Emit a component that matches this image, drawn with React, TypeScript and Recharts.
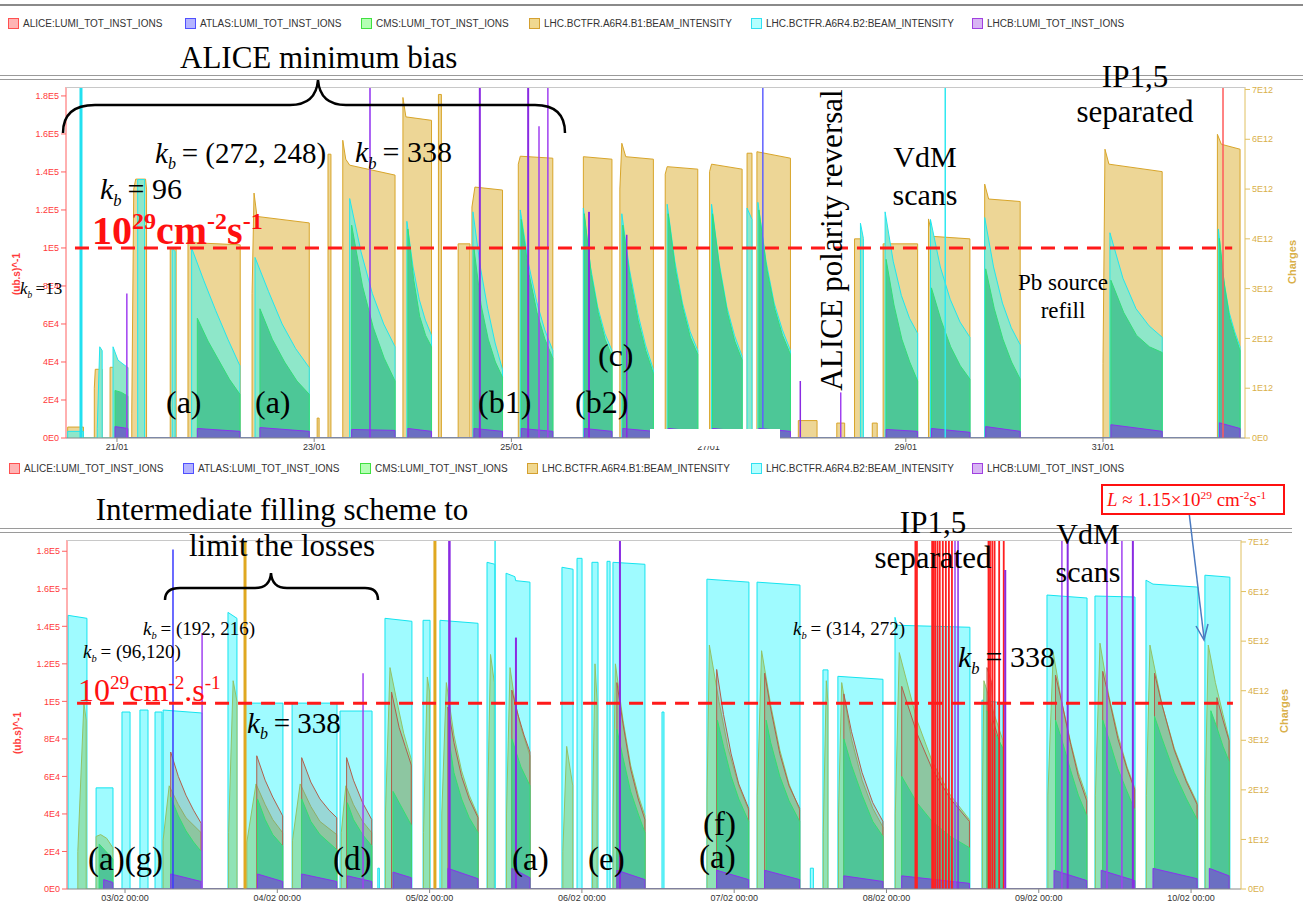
import React from 'react';
import { ComposedChart, Area, XAxis, YAxis, ReferenceLine } from 'recharts';

type Pt = [number, number];
type Run = [number, number, number[]];
type Spike = [number, number | null, string, number];

// ---- top panel: 20/01 - 01/02 (x = day of January) ----
// lumi in 1E4 (ub.s)^-1, beam intensity in 1E12 charges
const topDays = [21, 23, 25, 27, 29, 31];
const lumiTicks = [0, 2, 4, 6, 8, 10, 12, 14, 16, 18];
const chargeTicks = [0, 1, 2, 3, 4, 5, 6, 7];

const topB1: Pt[][] = [
  [[20.50, 0.22], [20.66, 0.22]],
  [[20.77, 1.0], [20.78, 1.38], [20.85, 1.38]],
  [[20.93, 1.42], [21.11, 1.42]],
  [[21.15, 0.5], [21.17, 5.0], [21.19, 5.2], [21.29, 5.2], [21.30, 5.0]],
  [[21.54, 3.8], [21.60, 3.8]],
  [[21.72, 3.98], [21.80, 3.92], [22.25, 3.88]],
  [[22.37, 2.9], [22.39, 4.92], [22.42, 4.45], [22.95, 4.32]],
  [[23.03, 0.4], [23.05, 0.4]],
  [[23.14, 5.7], [23.17, 5.7]],
  [[23.29, 5.98], [23.32, 5.6], [23.36, 5.48], [23.82, 5.28]],
  [[23.90, 6.84], [23.93, 6.45], [24.19, 6.38]],
  [[24.26, 6.9], [24.29, 6.9]],
  [[24.46, 3.9], [24.58, 3.9]],
  [[24.60, 4.64], [24.63, 5.04], [24.91, 4.98]],
  [[25.07, 5.5], [25.09, 5.66], [25.42, 5.62]],
  [[25.73, 5.65], [26.02, 5.6]],
  [[26.10, 5.0], [26.12, 5.92], [26.16, 5.65], [26.44, 5.6]],
  [[26.56, 5.3], [26.58, 5.45], [26.89, 5.4]],
  [[27.01, 5.35], [27.03, 5.5], [27.34, 5.4]],
  [[27.39, 5.72], [27.44, 5.72]],
  [[27.49, 5.75], [27.83, 5.62]],
  [[27.91, 0.35], [28.10, 0.35]],
  [[28.30, 0.3], [28.38, 0.3]],
  [[28.48, 4.0], [28.54, 4.0]],
  [[28.66, 0.3], [28.71, 0.3]],
  [[28.77, 3.9], [29.12, 3.9]],
  [[29.23, 4.4], [29.27, 4.05], [29.65, 4.0]],
  [[29.80, 5.1], [29.84, 4.8], [30.16, 4.75]],
  [[31.00, 1.5], [31.02, 5.8], [31.06, 5.5], [31.60, 5.35]],
  [[32.16, 6.1], [32.20, 5.9], [32.39, 5.8]],
];

const topB2: Run[] = [
  [20.50, 20.66, [0.35, 0.35]],
  [20.80, 20.85, [0.5, 4.8, 4.6]],
  [20.96, 21.11, [4.8, 4.1, 3.9, 3.7]],
  [21.21, 21.28, [13.6, 13.6]],
  [21.56, 21.59, [10.0, 9.8]],
  [21.757, 22.247, [10.0, 8.3, 6.7, 5.2, 3.8]],
  [22.40, 22.95, [9.5, 7.7, 6.0, 4.7, 3.7]],
  [23.36, 23.82, [12.6, 9.8, 7.6, 6.0, 4.8]],
  [23.94, 24.19, [11.4, 9.0, 7.3, 6.2, 5.4]],
  [24.61, 24.91, [11.9, 9.0, 6.8, 5.0, 3.6]],
  [25.09, 25.42, [12.0, 9.2, 7.2, 5.7, 4.6]],
  [25.73, 26.02, [12.1, 9.0, 6.9, 5.5, 4.6]],
  [26.12, 26.44, [11.8, 8.8, 6.6, 4.9, 3.6]],
  [26.58, 26.89, [12.3, 9.3, 7.1, 5.6, 4.6]],
  [27.03, 27.34, [12.3, 9.2, 6.9, 5.4, 4.3]],
  [27.39, 27.44, [12.1, 11.5]],
  [27.50, 27.83, [12.4, 9.3, 7.1, 5.7, 4.6]],
  [28.54, 28.57, [11.3, 10.5]],
  [28.79, 29.12, [11.9, 9.3, 7.5, 6.3, 5.5]],
  [29.25, 29.65, [11.5, 9.0, 7.3, 6.1, 5.3]],
  [29.80, 30.16, [11.6, 9.0, 7.1, 5.8, 4.9]],
  [31.07, 31.60, [10.8, 8.4, 6.8, 5.9, 5.3]],
  [32.17, 32.39, [11.0, 8.3, 6.6, 5.6, 4.8]],
];

const topCms: Run[] = [
  [20.98, 21.11, [2.5, 2.4, 2.2]],
  [21.815, 22.247, [6.3, 5.1, 4.1, 3.1, 2.3]],
  [22.45, 22.95, [6.8, 5.2, 4.0, 3.0, 2.3]],
  [23.38, 23.82, [11.2, 8.0, 5.8, 4.2, 3.0]],
  [23.95, 24.19, [11.0, 8.3, 6.4, 5.4, 4.8]],
  [24.62, 24.91, [10.0, 7.0, 5.2, 4.0, 3.2]],
  [25.10, 25.42, [11.5, 8.6, 6.6, 5.2, 4.2]],
  [25.74, 26.02, [11.8, 8.6, 6.6, 5.2, 4.3]],
  [26.13, 26.44, [11.2, 8.3, 6.2, 4.6, 3.4]],
  [26.59, 26.89, [11.8, 8.8, 6.8, 5.3, 4.4]],
  [27.04, 27.34, [11.8, 8.8, 6.6, 5.1, 4.1]],
  [27.51, 27.83, [12.0, 8.9, 6.8, 5.4, 4.4]],
  [28.80, 29.12, [9.4, 7.0, 5.2, 4.0, 3.0]],
  [29.26, 29.65, [7.9, 6.2, 4.8, 3.8, 3.1]],
  [29.81, 30.16, [8.9, 6.8, 5.2, 4.0, 3.1]],
  [31.08, 31.60, [8.3, 6.6, 5.4, 4.8, 4.5]],
  [32.18, 32.39, [10.5, 8.0, 6.3, 5.4, 4.6]],
];

const topLhcb: Run[] = [
  [20.98, 21.11, [0.6, 0.5]],
  [21.815, 22.247, [0.5, 0.35]],
  [22.45, 22.95, [0.55, 0.35]],
  [23.38, 23.82, [0.45, 0.4]],
  [23.95, 24.19, [0.5, 0.35]],
  [24.62, 24.91, [0.5, 0.35]],
  [25.10, 25.42, [0.5, 0.35]],
  [25.74, 26.02, [0.5, 0.35]],
  [26.13, 26.44, [0.5, 0.35]],
  [26.59, 26.89, [0.5, 0.35]],
  [27.04, 27.34, [0.5, 0.35]],
  [27.51, 27.83, [0.5, 0.35]],
  [28.80, 29.12, [0.45, 0.35]],
  [29.26, 29.65, [0.5, 0.3]],
  [29.81, 30.16, [0.6, 0.35]],
  [31.08, 31.60, [0.7, 0.35]],
  [32.18, 32.39, [0.8, 0.5]],
];

const topSpikes: Spike[] = [
  [20.635, null, '#22e0f0', 3],
  [21.10, 7.6, '#a040f0', 1.5],
  [23.566, null, '#9030f0', 1.5],
  [24.68, null, '#8a2be2', 2],
  [25.17, null, '#8a2be2', 2],
  [25.28, 16.4, '#a040f0', 1.5],
  [25.37, null, '#a040f0', 1.5],
  [25.787, 11.9, '#8a2be2', 2],
  [26.17, 10.7, '#8a2be2', 1.5],
  [27.55, null, '#6060ff', 1.5],
  [27.93, 3.0, '#8a2be2', 1.5],
  [28.34, 2.4, '#a040f0', 1.5],
  [29.40, null, '#30e8f0', 1.5],
  [32.217, null, '#ff5a5a', 1.5],
];

// ---- bottom panel: 02/02 - 10/02 (x = day of February) ----
const botDays = [3, 4, 5, 6, 7, 8, 9, 10];

const botB2: Pt[][] = [
  [[2.626, 5.52], [2.75, 5.46]],
  [[2.81, 2.04], [2.921, 2.04]],
  [[2.98, 3.57], [3.033, 3.57]],
  [[3.098, 3.61], [3.151, 3.61]],
  [[3.197, 3.57], [3.243, 3.57]],
  [[3.25, 3.61], [3.506, 3.55]],
  [[3.676, 5.58], [3.735, 5.46]],
  [[3.788, 3.75], [4.037, 3.75]],
  [[4.097, 3.75], [4.392, 3.75]],
  [[4.412, 3.59], [4.622, 3.59]],
  [[4.66, 0.42], [4.67, 0.42]],
  [[4.707, 5.46], [4.884, 5.40]],
  [[4.957, 5.42], [5.003, 5.42]],
  [[5.068, 5.42], [5.318, 5.36]],
  [[5.377, 6.59], [5.429, 6.55]],
  [[5.502, 6.37], [5.56, 6.30], [5.565, 6.22], [5.659, 6.19]],
  [[5.869, 6.49], [5.942, 6.45]],
  [[5.968, 6.67], [6.001, 6.67]],
  [[6.066, 6.59], [6.106, 6.59]],
  [[6.165, 6.61], [6.185, 6.61]],
  [[6.204, 6.59], [6.414, 6.55]],
  [[6.526, 3.57], [6.539, 3.57]],
  [[6.821, 6.25], [7.097, 6.19]],
  [[7.15, 6.19], [7.432, 6.13]],
  [[7.50, 0.42], [7.52, 0.42]],
  [[7.583, 4.42], [7.616, 4.42]],
  [[7.681, 4.29], [7.977, 4.23]],
  [[8.056, 5.48], [8.07, 5.32], [8.548, 5.28]],
  [[8.627, 3.81], [8.765, 3.75]],
  [[9.054, 5.93], [9.317, 5.87]],
  [[9.369, 5.91], [9.632, 5.89]],
  [[9.704, 6.23], [9.75, 6.15], [10.045, 6.09]],
  [[10.091, 6.33], [10.255, 6.29]],
];

const botCms: Pt[][] = [
  [[2.69, 2.0], [2.73, 9.9], [2.745, 9.0]],
  [[2.81, 2.8], [2.84, 2.9], [2.88, 2.7], [2.92, 2.2]],
  [[3.25, 2.6], [3.29, 5.5], [3.35, 4.5], [3.40, 3.8], [3.50, 3.0]],
  [[3.68, 3.0], [3.71, 11.1], [3.735, 10.0]],
  [[3.80, 2.5], [3.86, 5.6], [3.92, 4.5], [3.97, 3.7], [4.035, 3.0]],
  [[4.10, 2.6], [4.15, 5.6], [4.22, 4.4], [4.28, 3.6], [4.39, 2.9]],
  [[4.42, 3.0], [4.45, 5.5], [4.50, 4.5], [4.56, 3.6], [4.62, 3.0]],
  [[4.71, 4.0], [4.74, 11.8], [4.78, 10.2], [4.83, 8.3], [4.88, 6.9]],
  [[4.96, 3.0], [4.985, 11.3], [5.0, 10.5]],
  [[5.08, 4.0], [5.11, 11.0], [5.16, 8.2], [5.21, 6.3], [5.26, 5.0], [5.318, 3.9]],
  [[5.38, 4.0], [5.40, 12.5], [5.425, 11.0]],
  [[5.505, 4.0], [5.528, 11.8], [5.56, 10.0], [5.60, 8.6], [5.659, 7.1]],
  [[5.875, 2.0], [5.90, 7.6], [5.94, 5.5]],
  [[6.07, 4.0], [6.086, 12.0], [6.10, 10.0]],
  [[6.205, 4.0], [6.22, 12.0], [6.27, 9.0], [6.32, 6.6], [6.37, 5.0], [6.414, 3.9]],
  [[6.822, 5.0], [6.837, 13.0], [6.90, 10.0], [6.96, 7.5], [7.03, 5.5], [7.095, 4.2]],
  [[7.152, 5.0], [7.18, 12.7], [7.24, 9.8], [7.30, 7.4], [7.36, 5.6], [7.43, 4.2]],
  [[7.585, 3.0], [7.605, 11.1], [7.615, 10.0]],
  [[7.685, 4.0], [7.706, 11.0], [7.77, 8.0], [7.84, 5.8], [7.91, 4.3], [7.977, 3.3]],
  [[8.058, 4.0], [8.084, 12.6], [8.20, 9.0], [8.30, 6.8], [8.42, 5.0], [8.545, 3.7]],
  [[8.63, 5.0], [8.64, 11.1], [8.70, 9.5], [8.765, 7.9]],
  [[9.06, 5.0], [9.095, 12.6], [9.15, 10.0], [9.21, 7.8], [9.26, 6.2], [9.315, 4.9]],
  [[9.372, 5.0], [9.402, 13.1], [9.46, 10.3], [9.52, 8.2], [9.58, 6.5], [9.63, 5.4]],
  [[9.707, 5.0], [9.73, 13.0], [9.81, 9.8], [9.89, 7.5], [9.97, 5.8], [10.04, 4.6]],
  [[10.093, 5.0], [10.113, 13.0], [10.16, 11.0], [10.21, 9.3], [10.25, 8.0]],
];

const botAlice: Pt[][] = [
  [[3.30, 7.3], [3.35, 6.0], [3.40, 5.0], [3.45, 4.2], [3.50, 3.5]],
  [[3.865, 7.1], [3.92, 5.8], [3.97, 4.9], [4.035, 3.9]],
  [[4.16, 7.0], [4.22, 5.7], [4.28, 4.8], [4.34, 4.2], [4.39, 3.8]],
  [[4.455, 7.0], [4.50, 5.8], [4.56, 4.6], [4.62, 3.7]],
  [[4.75, 10.5], [4.80, 8.6], [4.84, 7.6], [4.88, 6.6]],
  [[5.12, 9.7], [5.16, 7.8], [5.21, 6.0], [5.26, 4.8], [5.318, 3.8]],
  [[5.54, 10.6], [5.58, 9.3], [5.62, 8.2], [5.659, 7.3]],
  [[6.23, 11.0], [6.27, 8.8], [6.32, 6.4], [6.37, 4.8], [6.414, 3.7]],
  [[6.885, 11.7], [6.93, 9.3], [6.98, 7.2], [7.03, 5.6], [7.095, 4.3]],
  [[7.20, 11.5], [7.24, 9.6], [7.30, 7.2], [7.36, 5.5], [7.43, 4.3]],
  [[7.72, 10.4], [7.77, 8.4], [7.84, 6.2], [7.91, 4.6], [7.977, 3.6]],
  [[8.10, 10.8], [8.20, 8.3], [8.30, 6.4], [8.42, 4.8], [8.545, 3.6]],
  [[8.66, 11.8], [8.69, 11.0], [8.70, 9.0], [8.765, 7.2]],
  [[9.11, 11.4], [9.15, 10.0], [9.21, 7.7], [9.26, 6.0], [9.315, 4.7]],
  [[9.42, 11.6], [9.46, 10.2], [9.52, 8.0], [9.58, 6.4], [9.63, 5.3]],
  [[9.76, 11.5], [9.81, 9.8], [9.89, 7.4], [9.97, 5.7], [10.04, 4.5]],
  [[10.17, 10.2], [10.21, 9.0], [10.25, 7.9]],
];

const botAtlas: Pt[][] = [
  [[2.83, 2.4], [2.92, 1.6]],
  [[3.30, 4.9], [3.35, 3.9], [3.40, 3.1], [3.45, 2.5], [3.50, 2.0]],
  [[3.87, 4.8], [3.92, 3.7], [3.97, 2.9], [4.035, 2.3]],
  [[4.16, 4.8], [4.22, 3.6], [4.28, 2.9], [4.39, 2.1]],
  [[4.46, 4.6], [4.50, 3.7], [4.56, 2.9], [4.62, 2.3]],
  [[4.76, 5.2], [4.80, 4.6], [4.84, 4.0], [4.88, 3.4]],
  [[5.13, 7.8], [5.16, 6.2], [5.21, 4.8], [5.26, 3.8], [5.318, 3.0]],
  [[5.54, 8.0], [5.60, 6.5], [5.659, 5.5]],
  [[6.23, 8.5], [6.27, 7.0], [6.32, 5.2], [6.37, 4.0], [6.414, 3.0]],
  [[6.89, 9.0], [6.93, 7.6], [6.98, 6.0], [7.03, 4.8], [7.095, 3.6]],
  [[7.21, 9.0], [7.24, 7.8], [7.30, 6.0], [7.36, 4.7], [7.43, 3.6]],
  [[7.72, 8.0], [7.77, 6.6], [7.84, 5.0], [7.91, 3.6], [7.977, 2.8]],
  [[8.10, 6.0], [8.20, 4.6], [8.30, 3.6], [8.42, 2.8], [8.545, 2.2]],
  [[8.66, 9.5], [8.70, 8.5], [8.765, 7.5]],
  [[9.11, 9.0], [9.15, 8.0], [9.21, 6.3], [9.26, 5.0], [9.315, 3.9]],
  [[9.42, 9.0], [9.46, 8.0], [9.52, 6.4], [9.58, 5.2], [9.63, 4.2]],
  [[9.76, 9.2], [9.81, 8.0], [9.89, 6.2], [9.97, 4.8], [10.04, 3.7]],
  [[10.13, 9.5], [10.17, 8.6], [10.21, 7.6], [10.25, 6.8]],
];

const botLhcb: Run[] = [
  [2.86, 2.92, [0.5, 0.35]],
  [3.30, 3.50, [0.8, 0.4]],
  [3.87, 4.035, [0.8, 0.4]],
  [4.16, 4.39, [0.8, 0.4]],
  [4.46, 4.62, [0.7, 0.4]],
  [4.76, 4.88, [0.9, 0.6]],
  [5.12, 5.318, [1.1, 0.55]],
  [5.54, 5.659, [1.1, 0.6]],
  [6.23, 6.414, [1.0, 0.5]],
  [6.885, 7.095, [1.0, 0.5]],
  [7.20, 7.43, [1.0, 0.5]],
  [7.72, 7.977, [0.7, 0.4]],
  [8.10, 8.545, [0.7, 0.3]],
  [9.10, 9.315, [1.0, 0.45]],
  [9.41, 9.63, [1.0, 0.45]],
  [9.75, 10.04, [1.1, 0.55]],
  [10.12, 10.25, [1.1, 0.7]],
];

const botRed = [8.19, 8.20, 8.30, 8.31, 8.32, 8.335, 8.35, 8.37, 8.39, 8.41, 8.43, 8.67, 8.68, 8.695, 8.71, 8.74, 8.77];
const botSpikes: Spike[] = [
  [3.315, 18.1, '#3a3aff', 1.5],
  [3.506, 13.65, '#a040f0', 1.5],
  [3.788, null, '#e0a820', 3],
  [4.563, 11.5, '#a040f0', 1.5],
  [5.035, null, '#e0a820', 3],
  [5.13, null, '#8a2be2', 2.5],
  [5.43, null, '#30e8f0', 1.5],
  [5.567, 13.4, '#8a2be2', 2],
  [6.25, null, '#8a2be2', 2],
  ...botRed.map((t): Spike => [t, null, '#ff2020', 1.8]),
  [8.45, null, '#a040f0', 1.5],
  [8.47, null, '#8a2be2', 1.5],
  [8.78, 17.0, '#8a2be2', 2],
  [9.152, null, '#a040f0', 1.5],
  [9.19, null, '#8a2be2', 2],
  [9.448, null, '#a040f0', 1.5],
  [9.546, null, '#a040f0', 1.5],
  [9.618, null, '#8a2be2', 2],
];

const legendNames = [
  'ALICE:LUMI_TOT_INST_IONS',
  'ATLAS:LUMI_TOT_INST_IONS',
  'CMS:LUMI_TOT_INST_IONS',
  'LHC.BCTFR.A6R4.B1:BEAM_INTENSITY',
  'LHC.BCTFR.A6R4.B2:BEAM_INTENSITY',
  'LHCB:LUMI_TOT_INST_IONS',
];
const legendColors = [
  ['#ff5050', '#ffb4b4'],
  ['#5050ff', '#b4b4ff'],
  ['#40e040', '#b4ffb4'],
  ['#d4a030', '#f0d890'],
  ['#30e0f0', '#b4ffff'],
  ['#a040e0', '#d8b4f4'],
];

const runPts = ([t0, t1, vals]: Run): Pt[] =>
  vals.map((v, i) => [t0 + ((t1 - t0) * i) / (vals.length - 1), v]);

const toSeries = (fills: Pt[][]) =>
  fills.flatMap((f) => [
    { t: f[0][0], v: 0 },
    ...f.map(([t, v]) => ({ t, v })),
    { t: f[f.length - 1][0], v: 0 },
  ]);

const fmtLumi = (v: number) => (v === 0 ? '0E0' : v < 10 ? `${v}E4` : `${v / 10}E5`);
const fmtCharge = (v: number) => (v === 0 ? '0E0' : `${v}E12`);
const pad = (d: number) => (d < 10 ? `0${d}` : `${d}`);

const SANS = '"Liberation Sans", Arial, sans-serif';
const SERIF = '"Liberation Serif", "Times New Roman", serif';
const RED = '#ff3a3a';
const GOLD = '#d9b04a';

const spikeLines = (spikes: Spike[], top: number) =>
  spikes.map(([t, h, c, w], i) => (
    <ReferenceLine
      key={`s${i}`}
      yAxisId="l"
      segment={[{ x: t, y: 0 }, { x: t, y: h ?? top }]}
      stroke={c}
      strokeWidth={w}
      ifOverflow="hidden"
    />
  ));

const area = (key: string, data: { t: number; v: number }[], axis: string, fill: string, stroke: string, fillOpacity = 1) => (
  <Area
    key={key}
    data={data}
    dataKey="v"
    yAxisId={axis}
    type="linear"
    fill={fill}
    fillOpacity={fillOpacity}
    stroke={stroke}
    strokeWidth={1}
    dot={false}
    activeDot={false}
    isAnimationActive={false}
  />
);

const Legend = ({ top, xs }: { top: number; xs: number[] }) => (
  <>
    {legendNames.map((n, i) => (
      <div key={n} style={{ position: 'absolute', left: xs[i], top, height: 12, display: 'flex', alignItems: 'center', fontFamily: SANS, fontSize: 10, color: '#333', whiteSpace: 'nowrap' }}>
        <span style={{ width: 9, height: 9, border: `1px solid ${legendColors[i][0]}`, background: legendColors[i][1], marginRight: 4, display: 'inline-block' }} />
        {n}
      </div>
    ))}
  </>
);

const Kb = ({ size, rest }: { size: number; rest: string }) => (
  <span>
    <i>k</i>
    <i style={{ fontSize: size * 0.55, position: 'relative', top: size * 0.22 }}>b</i>
    {'\u2009' + rest}
  </span>
);

const T = ({ x, y, size, children, color = '#000', bold = false, center = false }: { x: number; y: number; size: number; children: React.ReactNode; color?: string; bold?: boolean; center?: boolean }) => (
  <div
    style={{
      position: 'absolute',
      left: center ? x - 200 : x,
      width: center ? 400 : undefined,
      textAlign: center ? 'center' : 'left',
      top: y,
      fontFamily: SERIF,
      fontSize: size,
      lineHeight: `${size}px`,
      color,
      fontWeight: bold ? 'bold' : 'normal',
      whiteSpace: 'nowrap',
    }}
  >
    {children}
  </div>
);

const sup = (s: string, size: number) => (
  <span style={{ fontSize: size * 0.6, position: 'relative', top: -size * 0.38 }}>{s}</span>
);

const hline = (top: number, left: number, width: number, color: string, h = 1) => (
  <div style={{ position: 'absolute', top, left, width, height: h, background: color }} />
);

const rotated = (x: number, y: number, text: string, size: number, color: string) => (
  <div style={{ position: 'absolute', left: x, top: y, transform: 'translate(-50%,-50%) rotate(-90deg)', fontFamily: SANS, fontSize: size, fontWeight: 'bold', color, whiteSpace: 'nowrap' }}>{text}</div>
);

export default function App() {
  return (
    <div style={{ position: 'absolute', left: 0, top: 0, width: 1303, height: 908, background: '#fff', overflow: 'hidden' }}>
      {hline(4, 0, 1303, '#8a8a8a', 2)}
      {hline(75, 0, 1303, '#9a9a9a', 1)}
      {hline(79, 0, 1303, '#9a9a9a', 1)}
      {hline(528, 0, 1292, '#9a9a9a', 1)}
      {hline(532, 0, 1292, '#9a9a9a', 1)}
      <Legend top={17} xs={[8, 185, 361, 529, 751, 972]} />
      <Legend top={462} xs={[9, 183, 360, 527, 751, 972]} />

      <div style={{ position: 'absolute', left: 0, top: 0 }}>
        <ComposedChart width={1303} height={465} margin={{ top: 87, right: 0, left: 0, bottom: 0 }}>
          <XAxis dataKey="t" type="number" domain={[20.483, 32.44]} ticks={topDays} allowDataOverflow tickFormatter={(d: number) => `${pad(d)}/01`} height={27} tick={{ fontSize: 9, fill: '#333', fontFamily: SANS }} stroke="#888" tickSize={4} />
          <YAxis yAxisId="l" orientation="left" width={66} domain={[0, 18.47]} ticks={lumiTicks} allowDataOverflow tickFormatter={fmtLumi} tick={{ fontSize: 9, fill: RED, fontFamily: SANS }} stroke="#ff6060" tickSize={5} />
          <YAxis yAxisId="r" orientation="right" width={58} domain={[0, 7.05]} ticks={chargeTicks} allowDataOverflow tickFormatter={fmtCharge} tick={{ fontSize: 9, fill: GOLD, fontFamily: SANS }} stroke="#e0c060" tickSize={5} />
          {area('b1', toSeries(topB1), 'r', '#edd696', '#d8a52a')}
          {area('b2', toSeries(topB2.map(runPts)), 'l', '#8ee7c9', '#22e6ee')}
          {area('cms', toSeries(topCms.map(runPts)), 'l', '#4dc797', '#33dd77')}
          {area('lhcb', toSeries(topLhcb.map(runPts)), 'l', '#6b6fc3', '#8833ee')}
          {spikeLines(topSpikes, 18.47)}
          <ReferenceLine yAxisId="l" segment={[{ x: 20.574, y: 10 }, { x: 32.31, y: 10 }]} stroke="#ff1a1a" strokeWidth={3} strokeDasharray="14 9" />
        </ComposedChart>
      </div>

      <div style={{ position: 'absolute', left: 0, top: 480 }}>
        <ComposedChart width={1303} height={428} margin={{ top: 60, right: 0, left: 0, bottom: 0 }}>
          <XAxis dataKey="t" type="number" domain={[2.619, 10.328]} ticks={botDays} allowDataOverflow tickFormatter={(d: number) => `${pad(d)}/02 00:00`} height={19} tick={{ fontSize: 9, fill: '#333', fontFamily: SANS }} stroke="#888" tickSize={4} />
          <YAxis yAxisId="l" orientation="left" width={67} domain={[0, 18.6]} ticks={lumiTicks} allowDataOverflow tickFormatter={fmtLumi} tick={{ fontSize: 9, fill: RED, fontFamily: SANS }} stroke="#ff6060" tickSize={5} />
          <YAxis yAxisId="r" orientation="right" width={62} domain={[0, 7.04]} ticks={chargeTicks} allowDataOverflow tickFormatter={fmtCharge} tick={{ fontSize: 9, fill: GOLD, fontFamily: SANS }} stroke="#e0c060" tickSize={5} />
          {area('b2', toSeries(botB2), 'r', '#9ffbff', '#14e4ef')}
          {area('cms', toSeries(botCms), 'l', '#8fe3b6', '#93c266')}
          {area('alice', toSeries(botAlice), 'l', '#8a7a6a', '#b0604c', 0.28)}
          {area('atlas', toSeries(botAtlas), 'l', '#4fc598', '#33e070')}
          {area('lhcb', toSeries(botLhcb.map(runPts)), 'l', '#6b6fc3', '#8833ee')}
          {spikeLines(botSpikes, 18.6)}
          <ReferenceLine yAxisId="l" segment={[{ x: 2.685, y: 9.9 }, { x: 10.275, y: 9.9 }]} stroke="#ff1a1a" strokeWidth={3} strokeDasharray="14 9" />
        </ComposedChart>
      </div>

      {hline(87, 66, 1179, '#c8c8c8')}
      {hline(540, 67, 1174, '#c8c8c8')}
      <div style={{ position: 'absolute', left: 650, top: 429, width: 130, height: 17, background: '#fff' }} />

      {/* axis titles */}
      {rotated(16, 274, '(ub.s)^-1', 10, RED)}
      {rotated(17, 733, '(ub.s)^-1', 10, RED)}
      {rotated(1292, 262, 'Charges', 11, GOLD)}
      {rotated(1284, 711, 'Charges', 11, GOLD)}

      <svg width={1303} height={908} style={{ position: 'absolute', left: 0, top: 0, pointerEvents: 'none' }}>
        <path d="M63,133 Q63,105 95,105 L290,105 Q316,105 318,80 Q320,105 346,105 L535,105 Q565,105 565,133" fill="none" stroke="#000" strokeWidth={2.5} />
        <path d="M165,600 Q165,588 180,588 L255,588 Q270,588 271,573 Q272,588 287,588 L365,588 Q378,588 378,600" fill="none" stroke="#000" strokeWidth={2.5} />
        <line x1={1189} y1={512} x2={1204} y2={638} stroke="#4a7ac0" strokeWidth={1.5} />
        <path d="M1196,626 L1204,640 L1208,624" fill="none" stroke="#4a7ac0" strokeWidth={1.5} />
      </svg>

      {/* top annotations */}
      <T x={180} y={42} size={31}>ALICE minimum bias</T>
      <T x={155} y={139} size={29}><Kb size={29} rest="= (272, 248)" /></T>
      <T x={355} y={137} size={30}><Kb size={30} rest="= 338" /></T>
      <T x={100} y={174} size={30}><Kb size={30} rest="= 96" /></T>
      <T x={92} y={211} size={40} color="#ff1010" bold>10{sup('29', 40)}cm{sup('-2', 40)}s{sup('-1', 40)}</T>
      <T x={20} y={280} size={17}><Kb size={17} rest="=13" /></T>
      <T x={166} y={386} size={32}>(a)</T>
      <T x={255} y={386} size={32}>(a)</T>
      <T x={478} y={386} size={32}>(b1)</T>
      <T x={575} y={386} size={32}>(b2)</T>
      <T x={598} y={339} size={32}>(c)</T>
      <div style={{ position: 'absolute', left: 831, top: 240, transform: 'translate(-50%,-50%) rotate(-90deg)', fontFamily: SERIF, fontSize: 31, whiteSpace: 'nowrap', lineHeight: '31px' }}>ALICE polarity reversal</div>
      <T x={925} y={142} size={30} center>VdM</T>
      <T x={925} y={180} size={30} center>scans</T>
      <T x={1063} y={271} size={23} center>Pb source</T>
      <T x={1063} y={299} size={23} center>refill</T>
      <T x={1135} y={61} size={31} center>IP1,5</T>
      <T x={1135} y={96} size={31} center>separated</T>

      {/* bottom annotations */}
      <T x={282} y={494} size={31} center>Intermediate filling scheme to</T>
      <T x={282} y={530} size={31} center>limit the losses</T>
      <T x={143} y={619} size={19}><Kb size={19} rest="= (192, 216)" /></T>
      <T x={83} y={642} size={19}><Kb size={19} rest="= (96,120)" /></T>
      <T x={78} y={674} size={32} color="#ff1010">10{sup('29', 32)}cm{sup('-2', 32)}.s{sup('-1', 32)}</T>
      <T x={247} y={709} size={29}><Kb size={29} rest="= 338" /></T>
      <T x={88} y={843} size={33}>(a)(g)</T>
      <T x={333} y={843} size={33}>(d)</T>
      <T x={512} y={843} size={33}>(a)</T>
      <T x={588} y={843} size={33}>(e)</T>
      <T x={703} y={808} size={33}>(f)</T>
      <T x={699} y={841} size={33}>(a)</T>
      <T x={793} y={619} size={19}><Kb size={19} rest="= (314, 272)" /></T>
      <T x={958} y={642} size={30}><Kb size={30} rest="= 338" /></T>
      <T x={933} y={507} size={31} center>IP1,5</T>
      <T x={933} y={542} size={31} center>separated</T>
      <T x={1088} y={519} size={30} center>VdM</T>
      <T x={1088} y={557} size={30} center>scans</T>
      <div style={{ position: 'absolute', left: 1101, top: 484, width: 176, height: 27, border: '2px solid #ff1010', background: '#fff', fontFamily: SERIF, fontSize: 19, color: '#ff1010', whiteSpace: 'nowrap', lineHeight: '27px', paddingLeft: 4, boxSizing: 'content-box' }}>
        <i>L</i> ≈ 1.15×10{sup('29', 19)} cm{sup('-2', 19)}s{sup('-1', 19)}
      </div>
    </div>
  );
}
